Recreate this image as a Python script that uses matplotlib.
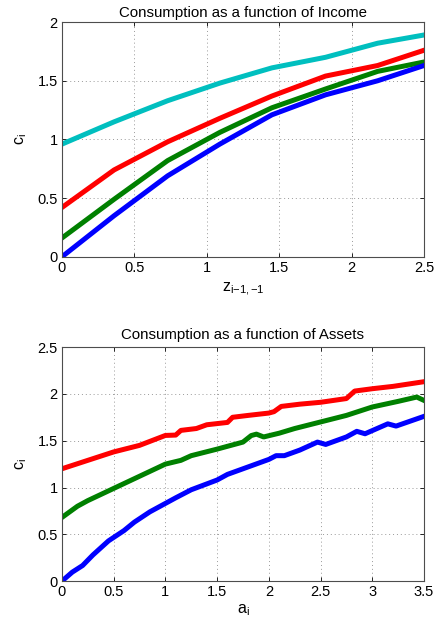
import matplotlib
matplotlib.use("Agg")
import matplotlib.pyplot as plt
import numpy as np

plt.rcParams['font.family'] = ['Liberation Sans', 'DejaVu Sans']
plt.rcParams['mathtext.fontset'] = 'custom'
plt.rcParams['mathtext.rm'] = 'Liberation Sans'
plt.rcParams['mathtext.it'] = 'Liberation Sans'

# ---- Top panel: consumption vs income ----
z_grid = [0, 0.36, 0.73, 1.09, 1.45, 1.82, 2.18, 2.5]
c_inc_cyan = [0.96, 1.15, 1.33, 1.48, 1.61, 1.70, 1.82, 1.89]
c_inc_red = [0.42, 0.74, 0.98, 1.18, 1.37, 1.54, 1.63, 1.76]
c_inc_green = [0.16, 0.49, 0.82, 1.06, 1.27, 1.43, 1.58, 1.66]
c_inc_blue = [0.0, 0.35, 0.69, 0.96, 1.21, 1.38, 1.50, 1.63]

# ---- Bottom panel: consumption vs assets ----
a_red = [0, 0.5, 0.75, 1.0, 1.1, 1.15, 1.3, 1.4, 1.6, 1.65, 1.8, 2.0, 2.05, 2.12, 2.3, 2.5, 2.75, 2.83, 3.0, 3.2, 3.5]
c_red = [1.20, 1.38, 1.45, 1.556, 1.56, 1.61, 1.63, 1.67, 1.695, 1.75, 1.77, 1.795, 1.81, 1.866, 1.89, 1.91, 1.95, 2.03, 2.055, 2.08, 2.13]

a_green = [0, 0.15, 0.25, 0.5, 0.75, 1.0, 1.15, 1.25, 1.5, 1.6, 1.75, 1.83, 1.88, 1.95, 2.1, 2.25, 2.5, 2.75, 3.0, 3.25, 3.43, 3.5]
c_green = [0.68, 0.80, 0.86, 0.99, 1.12, 1.25, 1.29, 1.34, 1.41, 1.44, 1.485, 1.555, 1.57, 1.54, 1.58, 1.63, 1.70, 1.77, 1.86, 1.92, 1.966, 1.93]

a_blue = [0, 0.1, 0.2, 0.3, 0.45, 0.6, 0.7, 0.85, 1.0, 1.1, 1.25, 1.5, 1.6, 1.75, 2.0, 2.07, 2.15, 2.3, 2.47, 2.55, 2.75, 2.85, 2.93, 3.15, 3.23, 3.5]
c_blue = [0.0, 0.096, 0.167, 0.28, 0.43, 0.54, 0.63, 0.74, 0.83, 0.89, 0.976, 1.08, 1.14, 1.20, 1.30, 1.34, 1.34, 1.40, 1.485, 1.46, 1.54, 1.60, 1.574, 1.68, 1.656, 1.76]

top_xticks = [0, 0.5, 1, 1.5, 2, 2.5]
top_xticklabels = ['0', '0.5', '1', '1.5', '2', '2.5']
top_yticks = [0, 0.5, 1, 1.5, 2]
top_yticklabels = ['0', '0.5', '1', '1.5', '2']
bot_xticks = [0, 0.5, 1, 1.5, 2, 2.5, 3, 3.5]
bot_xticklabels = ['0', '0.5', '1', '1.5', '2', '2.5', '3', '3.5']
bot_yticks = [0, 0.5, 1, 1.5, 2, 2.5]
bot_yticklabels = ['0', '0.5', '1', '1.5', '2', '2.5']

BLUE = (0, 0, 1)
GREEN = (0, 0.5, 0)
RED = (1, 0, 0)
CYAN = (0, 0.75, 0.75)
LW = 3.6
FS = 10.5

fig = plt.figure(figsize=(4.36, 6.31), dpi=100)
ax1 = fig.add_axes([0.142, 0.593, 0.8305, 0.372])
ax2 = fig.add_axes([0.142, 0.079, 0.8305, 0.371])

def style(ax, xt, xtl, yt, ytl, xlim, ylim):
    ax.set_xlim(*xlim)
    ax.set_ylim(*ylim)
    ax.set_xticks(xt)
    ax.set_xticklabels(xtl, fontsize=FS)
    ax.set_yticks(yt)
    ax.set_yticklabels(ytl, fontsize=FS)
    ax.grid(True, linestyle=(0, (1, 3)), color='0.6', linewidth=0.7)
    ax.tick_params(direction='in', top=True, right=True, length=3, width=0.6, pad=3)
    for s in ax.spines.values():
        s.set_linewidth(0.8)
        s.set_color('0.3')

ax1.plot(z_grid, c_inc_cyan, color=CYAN, lw=LW)
ax1.plot(z_grid, c_inc_red, color=RED, lw=LW)
ax1.plot(z_grid, c_inc_green, color=GREEN, lw=LW)
ax1.plot(z_grid, c_inc_blue, color=BLUE, lw=LW)
style(ax1, top_xticks, top_xticklabels, top_yticks, top_yticklabels, (0, 2.5), (0, 2))
ax1.set_title('Consumption as a function of Income', fontsize=10.8, pad=4)
ax1.set_xlabel(r'$\mathregular{z_{i{-}1,{-}1}}$', fontsize=FS + 1, labelpad=4)
ax1.set_ylabel(r'$\mathregular{c_i}$', fontsize=FS + 1, labelpad=6)

ax2.plot(a_red, c_red, color=RED, lw=LW)
ax2.plot(a_green, c_green, color=GREEN, lw=LW)
ax2.plot(a_blue, c_blue, color=BLUE, lw=LW)
style(ax2, bot_xticks, bot_xticklabels, bot_yticks, bot_yticklabels, (0, 3.5), (0, 2.5))
ax2.set_title('Consumption as a function of Assets', fontsize=10.8, pad=6)
ax2.set_xlabel(r'$\mathregular{a_i}$', fontsize=FS + 1, labelpad=2)
ax2.set_ylabel(r'$\mathregular{c_i}$', fontsize=FS + 1, labelpad=6)

fig.savefig('out.png', dpi=100)
